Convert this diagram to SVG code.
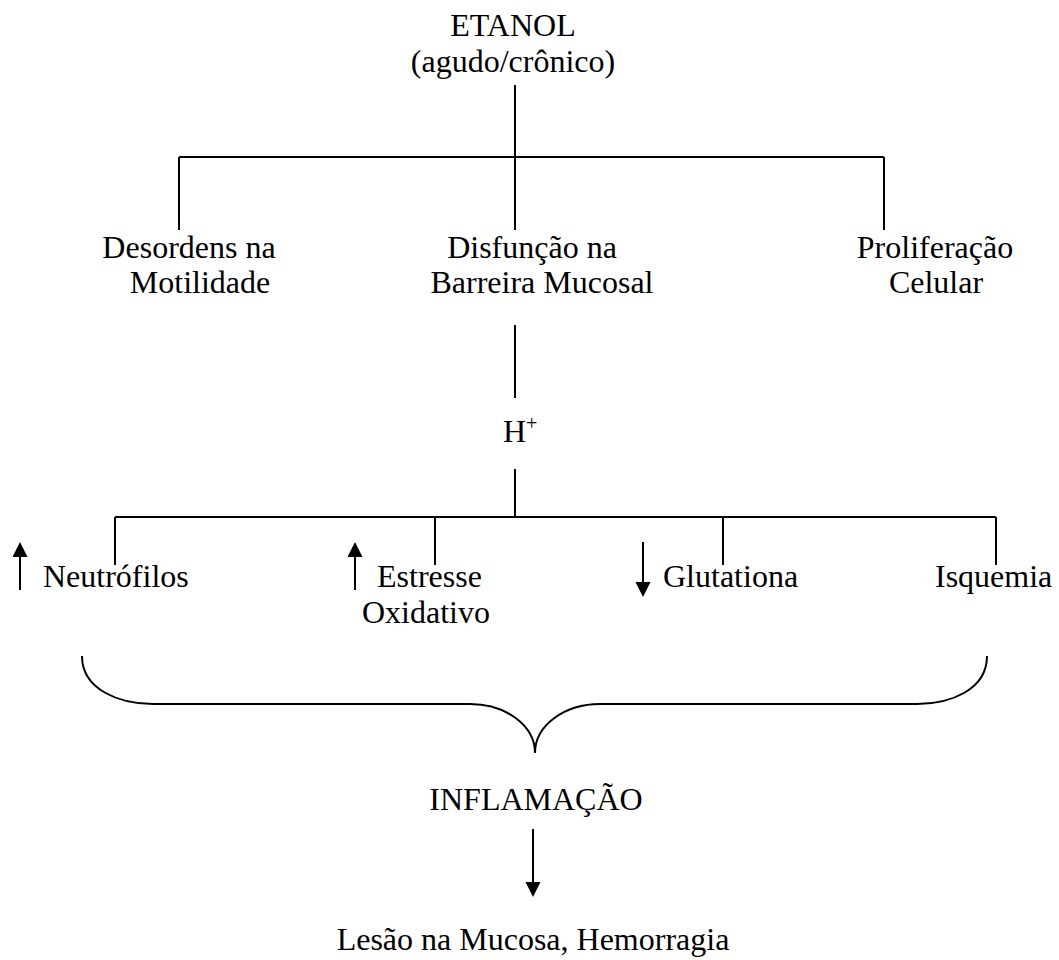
<svg xmlns="http://www.w3.org/2000/svg" width="1059" height="960" viewBox="0 0 1059 960">
<style>
text{font-family:"Liberation Serif","Times New Roman",serif;font-size:32px;fill:#000}
.c{text-anchor:middle}
.ln{stroke:#000;stroke-width:2;fill:none}
</style>
<defs>
<marker id="ah" markerUnits="userSpaceOnUse" markerWidth="16" markerHeight="16" refX="0" refY="7.5" orient="auto">
<path d="M0,0 L15,7.5 L0,15 z" fill="#000"/>
</marker>
</defs>
<rect width="1059" height="960" fill="#fff"/>
<g id="connectors">
<path class="ln" d="M515,85 V157 M179,157 H884 M179,157 V230 M515,157 V230 M884,157 V230"/>
<path class="ln" d="M515,325 V398 M515,469 V517 M115,517 H996 M115,517 V565 M435,517 V565 M723,517 V565 M996,517 V565"/>
<path class="ln" d="M82,656 C82,690 120,704 153,704 L470,704 C505,704 535,725 535,753 C535,725 565,704 600,704 L917,704 C950,704 987,690 987,656"/>
<line class="ln" x1="20" y1="590" x2="20" y2="557" marker-end="url(#ah)"/>
<line class="ln" x1="355" y1="590" x2="355" y2="557" marker-end="url(#ah)"/>
<line class="ln" x1="643" y1="542" x2="643" y2="582" marker-end="url(#ah)"/>
<line class="ln" x1="533" y1="829" x2="533" y2="882" marker-end="url(#ah)"/>
</g>
<g id="etanol"><text class="c" x="513" y="36">ETANOL</text><text class="c" x="513" y="72">(agudo/crônico)</text></g>
<g id="desordens"><text class="c" x="189" y="258">Desordens na</text><text class="c" x="200" y="293">Motilidade</text></g>
<g id="disfuncao"><text class="c" x="532" y="258">Disfunção na</text><text class="c" x="542" y="293">Barreira Mucosal</text></g>
<g id="proliferacao"><text class="c" x="935" y="258">Proliferação</text><text class="c" x="936" y="293">Celular</text></g>
<g id="h"><text x="503" y="442">H<tspan font-size="20" dy="-12">+</tspan></text></g>
<g id="neutrofilos"><text x="43" y="587">Neutrófilos</text></g>
<g id="estresse"><text x="377" y="587">Estresse</text><text class="c" x="426" y="623">Oxidativo</text></g>
<g id="glutationa"><text x="663" y="587">Glutationa</text></g>
<g id="isquemia"><text x="935" y="587">Isquemia</text></g>
<g id="inflamacao"><text class="c" x="536" y="810">INFLAMAÇÃO</text></g>
<g id="lesao"><text class="c" x="533" y="950">Lesão na Mucosa, Hemorragia</text></g>
</svg>
